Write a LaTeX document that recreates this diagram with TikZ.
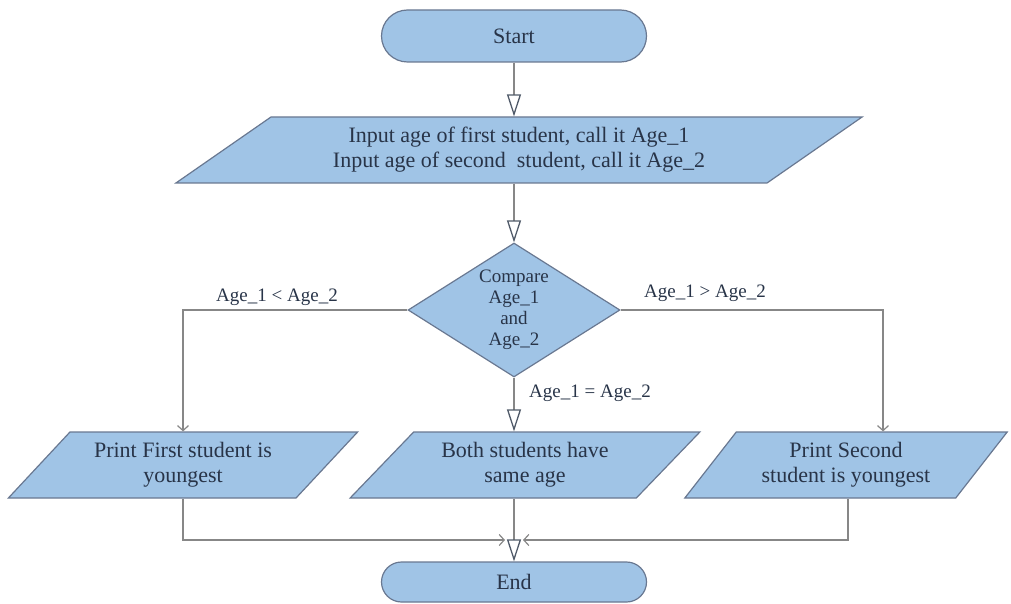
\documentclass[tikz,border=0pt]{standalone}
\usepackage{fontspec}
\setmainfont{Liberation Serif}
\usetikzlibrary{shapes.geometric,shapes.misc,arrows.meta}
\definecolor{boxfill}{RGB}{160,196,230}
\definecolor{boxline}{RGB}{105,120,145}
\definecolor{txt}{RGB}{40,52,72}
\definecolor{conn}{RGB}{135,135,135}
\definecolor{tipc}{RGB}{80,90,105}
\begin{document}
\begin{tikzpicture}[x=1pt,y=-1pt,
  terminal/.style={rounded rectangle, draw=boxline, fill=boxfill, line width=1.2pt,
    minimum width=265pt, minimum height=52pt, inner sep=0pt,
    font=\fontsize{22}{25}\selectfont, text=txt},
  io/.style={trapezium, trapezium stretches=true, draw=boxline, fill=boxfill,
    line width=1.2pt, minimum height=66pt, inner sep=0pt, align=center,
    font=\fontsize{22}{25}\selectfont, text=txt},
  decision/.style={diamond, aspect=1.58, draw=boxline, fill=boxfill, line width=1.2pt,
    minimum width=212pt, minimum height=134pt, inner sep=0pt, align=center,
    font=\fontsize{19}{21}\selectfont, text=txt},
  lbl/.style={font=\fontsize{19}{21}\selectfont, text=txt, inner sep=0pt},
  flow/.style={draw=conn, line width=1.3pt},
  bigtip/.style={-{Triangle[open, length=22pt, width=14pt, line width=1.3pt, color=tipc]}},
  smalltip/.style={-{Straight Barb[length=5pt, width=11pt, line width=1.2pt]}}
]
\useasboundingbox (0,0) rectangle (1011,604);

\node[terminal] (start) at (514,36) {Start};
\node[io, minimum width=688pt, trapezium left angle=32.4, trapezium right angle=147.6]
  (input) at (519,150) {Input age of first student, call it Age\_1\\Input age of second\ \ student, call it Age\_2};
\node[decision] (cmp) at (514,310) {Compare\\Age\_1\\and\\Age\_2};
\node[io, minimum width=350pt, trapezium left angle=42.9, trapezium right angle=137.1]
  (p1) at (183,465) {Print First student is\\youngest};
\node[io, minimum width=350pt, trapezium left angle=43.3, trapezium right angle=136.7]
  (p2) at (525,465) {Both students have\\same age};
\node[io, minimum width=323pt, trapezium left angle=48.7, trapezium right angle=131.3]
  (p3) at (846,465) {Print Second\\student is youngest};
\node[terminal, minimum height=40pt] (end) at (514,582) {End};

\node[lbl] (lless) at (277,297) {Age\_1 < Age\_2};
\node[lbl] (lmore) at (705,293) {Age\_1 > Age\_2};
\node[lbl] (lequal) at (590,393) {Age\_1 = Age\_2};

\coordinate (merge) at (514,540);

\draw[flow, bigtip] (start.south) -- (start.south |- input.north);
\draw[flow, bigtip] (cmp.north |- input.south) -- (cmp.north);
\draw[flow, smalltip] (cmp.west) -| (p1.north);
\draw[flow, smalltip] (cmp.east) -| ([xshift=37pt]p3.north);
\draw[flow, bigtip] (cmp.south) -- (cmp.south |- p2.north);
\draw[flow, bigtip] (cmp.south |- p2.south) -- (end.north);
\draw[flow, smalltip] (p1.south) |- ([xshift=-9pt]merge);
\draw[flow, smalltip] ([xshift=2pt]p3.south) |- ([xshift=9pt]merge);
\end{tikzpicture}
\end{document}
